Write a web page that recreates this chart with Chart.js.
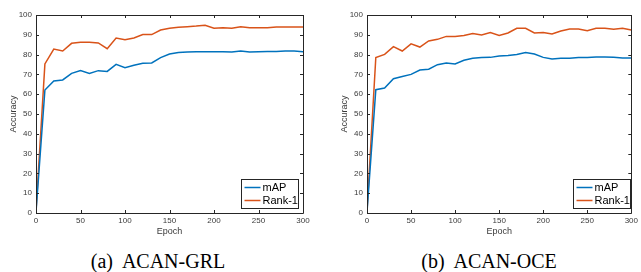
<!DOCTYPE html>
<html>
<head>
<meta charset="utf-8">
<script src="https://cdn.jsdelivr.net/npm/chart.js@4"></script>
<style>
  body { margin: 0; background: #fff; width: 641px; height: 272px; overflow: hidden; position: relative; }
  .box { position: absolute; top: 0; height: 240px; }
  .cap { position: absolute; top: 250px; font: 20px "Liberation Serif", "Times New Roman", serif; color: #000; white-space: pre; text-align: center; line-height: 23px; }
</style>
</head>
<body>
<div class="box" style="left:0;width:320px"><canvas id="grl" width="320" height="240"></canvas></div>
<div class="box" style="left:320px;width:321px"><canvas id="oce" width="321" height="240"></canvas></div>
<div class="cap" style="left:58px;width:200px">(a)  ACAN-GRL</div>
<div class="cap" style="left:389px;width:200px">(b)  ACAN-OCE</div>
<script>
// epochs sampled every 10
const epochs = [0, 10, 20, 30, 40, 50, 60, 70, 80, 90, 100, 110, 120, 130, 140, 150,
  160, 170, 180, 190, 200, 210, 220, 230, 240, 250, 260, 270, 280, 290, 300];

// (a) ACAN-GRL
const grlMap = [0.5, 62.1, 66.7, 67.2, 70.5, 72.0, 70.5, 71.9, 71.5, 75.1, 73.4, 74.6, 75.6, 75.8, 78.5, 80.3,
  81.0, 81.3, 81.5, 81.5, 81.5, 81.5, 81.3, 81.8, 81.3, 81.5, 81.6, 81.6, 81.8, 81.8, 81.5];
const grlRank = [1.0, 75.3, 82.8, 81.8, 85.7, 86.2, 86.2, 85.9, 83.0, 88.4, 87.5, 88.4, 90.1, 90.1, 92.4, 93.3,
  93.8, 94.1, 94.4, 94.8, 93.3, 93.6, 93.3, 94.1, 93.6, 93.6, 93.6, 94.0, 94.0, 94.0, 94.0];

// (b) ACAN-OCE
const oceMap = [0.5, 62.3, 63.1, 67.8, 68.9, 70.0, 72.2, 72.6, 74.9, 75.8, 75.3, 77.1, 78.1, 78.5, 78.6, 79.3,
  79.6, 80.0, 81.1, 80.3, 78.6, 77.8, 78.1, 78.1, 78.5, 78.5, 78.8, 78.8, 78.6, 78.3, 78.3];
const oceRank = [1.0, 78.5, 80.1, 84.0, 81.8, 85.4, 83.8, 86.9, 87.7, 89.2, 89.2, 89.7, 90.7, 89.9, 91.1, 89.7,
  90.9, 93.3, 93.3, 90.9, 91.2, 90.4, 91.9, 92.9, 92.9, 92.1, 93.3, 93.3, 92.8, 93.3, 92.4];

const seriesNames = ['mAP', 'Rank-1'];
const xTicks = [0, 50, 100, 150, 200, 250, 300];
const yTicks = [0, 10, 20, 30, 40, 50, 60, 70, 80, 90, 100];

const AXIS = '#262626';
const TICK_TXT = '#3a3a3a';
const SANS = '"Liberation Sans", Arial, sans-serif';

// matlab style box with inward ticks + legend in lower right
const matlabBox = {
  id: 'matlabBox',
  afterDatasetsDraw(chart, args, opts) {
    const { ctx, chartArea: a, scales } = chart;
    ctx.save();
    ctx.strokeStyle = AXIS;
    ctx.lineWidth = 1;
    ctx.beginPath();
    ctx.rect(Math.round(a.left) + 0.5, Math.round(a.top) + 0.5,
      Math.round(a.right - a.left), Math.round(a.bottom - a.top));
    ctx.stroke();
    const tl = 3;
    ctx.beginPath();
    xTicks.forEach(v => {
      const x = Math.round(scales.x.getPixelForValue(v)) + 0.5;
      ctx.moveTo(x, a.bottom); ctx.lineTo(x, a.bottom - tl);
      ctx.moveTo(x, a.top); ctx.lineTo(x, a.top + tl);
    });
    yTicks.forEach(v => {
      const y = Math.round(scales.y.getPixelForValue(v)) + 0.5;
      ctx.moveTo(a.left, y); ctx.lineTo(a.left + tl, y);
      ctx.moveTo(a.right, y); ctx.lineTo(a.right - tl, y);
    });
    ctx.stroke();

    // legend
    ctx.font = '11px ' + SANS;
    const ds = chart.data.datasets;
    const tw = Math.max(...ds.map(d => ctx.measureText(d.label).width));
    const w = Math.round(tw + 22), h = 29;
    const bx = Math.round(a.right - opts.inset - w) + 0.5;
    const by = Math.round(a.bottom - 5 - h) + 0.5;
    ctx.fillStyle = '#fff';
    ctx.fillRect(bx, by, w, h);
    ctx.strokeStyle = AXIS;
    ctx.strokeRect(bx, by, w, h);
    ds.forEach((d, i) => {
      const cy = by + 8 + i * 13;
      ctx.strokeStyle = d.borderColor;
      ctx.lineWidth = 1.5;
      ctx.beginPath();
      ctx.moveTo(bx + 3, cy); ctx.lineTo(bx + 19, cy);
      ctx.stroke();
      ctx.fillStyle = '#000';
      ctx.textBaseline = 'middle';
      ctx.fillText(d.label, bx + 21, cy + 0.5);
    });
    ctx.restore();
  }
};

function makeChart(id, mapVals, rankVals, pad, inset) {
  new Chart(document.getElementById(id), {
    type: 'line',
    data: {
      datasets: [
        { label: seriesNames[0], data: epochs.map((e, i) => ({ x: e, y: mapVals[i] })), borderColor: '#0072BD' },
        { label: seriesNames[1], data: epochs.map((e, i) => ({ x: e, y: rankVals[i] })), borderColor: '#D95319' }
      ]
    },
    options: {
      responsive: false,
      animation: false,
      layout: { padding: pad },
      elements: {
        line: { borderWidth: 1.5, tension: 0, fill: false },
        point: { radius: 0 }
      },
      plugins: {
        legend: { display: false },
        tooltip: { enabled: false },
        matlabBox: { inset: inset }
      },
      scales: {
        x: {
          type: 'linear', min: 0, max: 300,
          afterBuildTicks: s => { s.ticks = xTicks.map(v => ({ value: v })); },
          afterFit: s => { s.height = 27; },
          grid: { display: false, drawTicks: false },
          border: { display: false },
          ticks: { padding: 3, color: TICK_TXT, maxRotation: 0, font: { size: 8, family: SANS } },
          title: { display: true, text: 'Epoch', color: TICK_TXT, padding: { top: 0, bottom: 3 },
            font: { size: 9, family: SANS } }
        },
        y: {
          min: 0, max: 100,
          afterBuildTicks: s => { s.ticks = yTicks.map(v => ({ value: v })); },
          afterFit: s => { s.width = 36; },
          grid: { display: false, drawTicks: false },
          border: { display: false },
          ticks: { padding: 4, color: TICK_TXT, font: { size: 8, family: SANS } },
          title: { display: true, text: 'Accuracy', color: TICK_TXT, padding: { top: 8, bottom: 0 },
            font: { size: 9, family: SANS } }
        }
      }
    },
    plugins: [matlabBox]
  });
}

makeChart('grl', grlMap, grlRank, { left: 0, top: 15, right: 17, bottom: 0 }, 5);
makeChart('oce', oceMap, oceRank, { left: 11, top: 15, right: 8, bottom: 0 }, 1);
</script>
</body>
</html>
